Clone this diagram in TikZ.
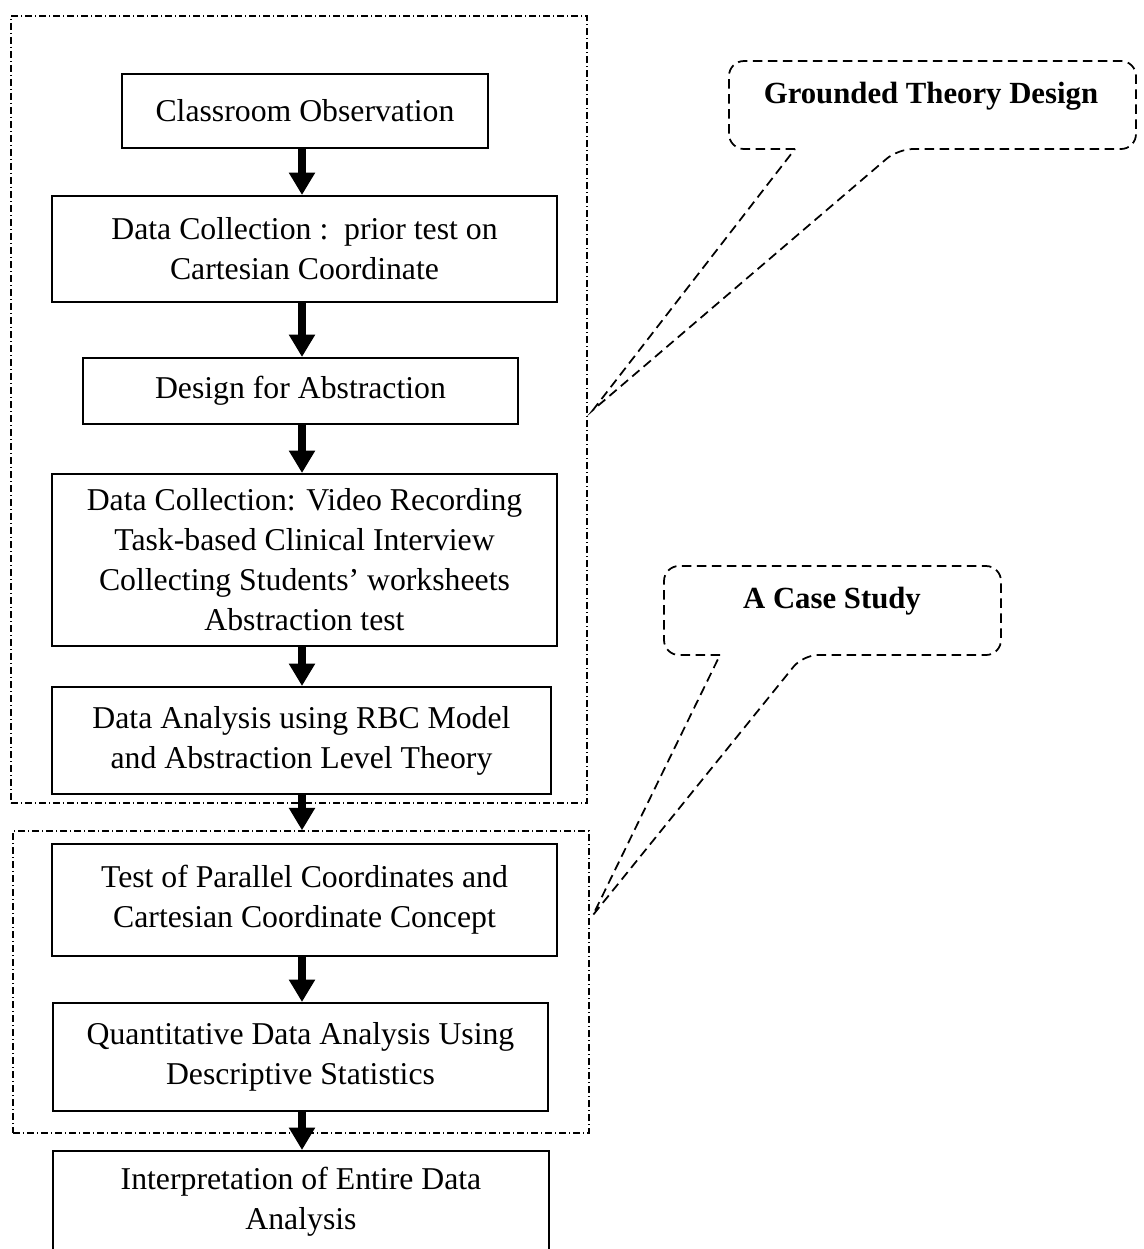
\documentclass[tikz,border=0pt]{standalone}
\usepackage{fontspec}
\setmainfont{Liberation Serif}
\usetikzlibrary{arrows.meta}
\begin{document}
\begin{tikzpicture}[x=0.4pt,y=-0.4pt,
  box/.style={draw, line width=0.8pt, inner sep=0pt, align=center, font=\fontsize{12.7}{16}\selectfont},
  grp/.style={draw, line width=0.55pt, dash pattern=on 2.8pt off 1.2pt on 0.4pt off 1.2pt, inner sep=0pt},
  flow/.style={line width=3.4pt, -{Triangle[width=10pt,length=9pt]}},
  callout/.style={line width=0.7pt, dash pattern=on 3.8pt off 2.2pt},
  ctext/.style={inner sep=0pt, font=\fontsize{12.3}{15}\selectfont\bfseries}]
\useasboundingbox (0,0) rectangle (1144,1249);
% groups
\node[grp, minimum width=230.4pt, minimum height=314.8pt] (g1) at (299,409.5) {};
\node[grp, minimum width=230.4pt, minimum height=120.8pt] (g2) at (301,982) {};
% boxes
\node[box, minimum width=146.4pt, minimum height=29.6pt] (b1) at (305,111) {Classroom Observation};
\node[box, minimum width=202pt, minimum height=42.4pt] (b2) at (304.5,249) {Data Collection :\ \ prior test on\\Cartesian Coordinate};
\node[box, minimum width=174pt, minimum height=26.4pt] (b3) at (300.5,391) {Design for Abstraction};
\node[box, minimum width=202pt, minimum height=68.8pt] (b4) at (304.5,560) {Data Collection: Video Recording\\Task-based Clinical Interview\\Collecting Students’ worksheets\\Abstraction test};
\node[box, minimum width=199.6pt, minimum height=42.8pt] (b5) at (301.5,740.5) {Data Analysis using RBC Model\\and Abstraction Level Theory};
\node[box, minimum width=202pt, minimum height=44.8pt] (b6) at (304.5,900) {Test of Parallel Coordinates and\\Cartesian Coordinate Concept};
\node[box, minimum width=198pt, minimum height=43.2pt] (b7) at (300.5,1057) {Quantitative Data Analysis Using\\Descriptive Statistics};
\node[box, minimum width=198.4pt, minimum height=40.4pt] (b8) at (301,1201.5) {Interpretation of Entire Data\\Analysis};
% arrows
\coordinate (ax) at (302,0);
\draw[flow] (b1.south -| ax) -- (b2.north -| ax);
\draw[flow] (b2.south -| ax) -- (b3.north -| ax);
\draw[flow] (b3.south -| ax) -- (b4.north -| ax);
\draw[flow] (b4.south -| ax) -- (b5.north -| ax);
\draw[flow] (b5.south -| ax) -- (g2.north -| ax);
\draw[flow] (b6.south -| ax) -- (b7.north -| ax);
\draw[flow] (b7.south -| ax) -- (b8.north -| ax);
% callouts
\node[ctext] (c1) at (931,96) {Grounded Theory Design};
\coordinate (t1) at (593,410);
\draw[callout] (795,149) [rounded corners=6pt] -- (729,149) -- (729,61) -- (1136,61) -- (1136,149) -- (898,149) [sharp corners] -- (t1) -- cycle;
\node[ctext] (c2) at (832,601) {A Case Study};
\coordinate (t2) at (593,915);
\draw[callout] (720,655) [rounded corners=6pt] -- (664,655) -- (664,566) -- (1001,566) -- (1001,655) -- (803,655) [sharp corners] -- (t2) -- cycle;
\end{tikzpicture}
\end{document}
